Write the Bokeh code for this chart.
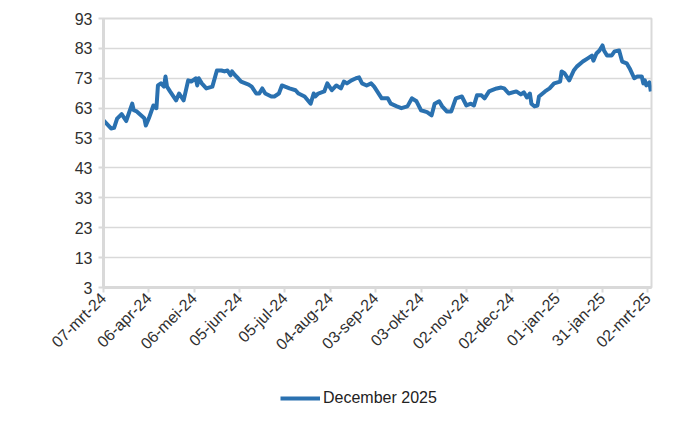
import math
from datetime import datetime, timedelta
from bokeh.plotting import figure
from bokeh.layouts import column
from bokeh.models import FixedTicker, Range1d, Legend, LegendItem
from bokeh.embed import file_html
from bokeh.resources import INLINE

# ---- data ----
dates = [
    "2024-03-07", "2024-03-12", "2024-03-14", "2024-03-16", "2024-03-19", "2024-03-22",
    "2024-03-26", "2024-03-27", "2024-03-29", "2024-04-03", "2024-04-04", "2024-04-06",
    "2024-04-09", "2024-04-11", "2024-04-12", "2024-04-14", "2024-04-16", "2024-04-17",
    "2024-04-18", "2024-04-20", "2024-04-24", "2024-04-26", "2024-04-29", "2024-05-02",
    "2024-05-04", "2024-05-07", "2024-05-08", "2024-05-09", "2024-05-11", "2024-05-14",
    "2024-05-18", "2024-05-21", "2024-05-24", "2024-05-26", "2024-05-28", "2024-05-30",
    "2024-05-31", "2024-06-02", "2024-06-04", "2024-06-06", "2024-06-11", "2024-06-13",
    "2024-06-16", "2024-06-18", "2024-06-20", "2024-06-22", "2024-06-26", "2024-06-28",
    "2024-07-01", "2024-07-03", "2024-07-08", "2024-07-12", "2024-07-14", "2024-07-18",
    "2024-07-22", "2024-07-24", "2024-07-25", "2024-07-27", "2024-07-31", "2024-08-02",
    "2024-08-05", "2024-08-08", "2024-08-11", "2024-08-13", "2024-08-15", "2024-08-18",
    "2024-08-21", "2024-08-23", "2024-08-25", "2024-08-28", "2024-08-31", "2024-09-02",
    "2024-09-07", "2024-09-11", "2024-09-13", "2024-09-17", "2024-09-20", "2024-09-24",
    "2024-09-27", "2024-09-30", "2024-10-03", "2024-10-07", "2024-10-10", "2024-10-12",
    "2024-10-15", "2024-10-17", "2024-10-20", "2024-10-23", "2024-10-26", "2024-10-30",
    "2024-11-02", "2024-11-05", "2024-11-07", "2024-11-09", "2024-11-12", "2024-11-14",
    "2024-11-17", "2024-11-19", "2024-11-22", "2024-11-25", "2024-11-27", "2024-11-30",
    "2024-12-05", "2024-12-08", "2024-12-10", "2024-12-12", "2024-12-14", "2024-12-15",
    "2024-12-17", "2024-12-19", "2024-12-20", "2024-12-24", "2024-12-27", "2024-12-30",
    "2025-01-03", "2025-01-04", "2025-01-06", "2025-01-09", "2025-01-12", "2025-01-14",
    "2025-01-18", "2025-01-21", "2025-01-24", "2025-01-25", "2025-01-27", "2025-01-29",
    "2025-01-31", "2025-02-01", "2025-02-03", "2025-02-06", "2025-02-08", "2025-02-11",
    "2025-02-13", "2025-02-16", "2025-02-18", "2025-02-21", "2025-02-23", "2025-02-26",
    "2025-02-27", "2025-02-28", "2025-03-01", "2025-03-03", "2025-03-04",
]
values = [
    58.9, 56.2, 56.4, 59.5, 61.0, 58.7,
    64.5, 62.3, 61.9, 59.6, 57.2, 59.6,
    63.9, 63.0, 70.6, 71.3, 70.2, 73.6,
    70.2, 68.6, 65.6, 67.9, 65.6, 72.3,
    71.9, 73.0, 70.6, 73.0, 71.3, 69.6,
    70.2, 75.6, 75.6, 75.3, 75.6, 74.0,
    75.3, 74.0, 73.0, 71.9, 70.9, 70.2,
    67.9, 67.9, 69.6, 67.9, 66.9, 66.9,
    67.9, 70.6, 69.6, 69.0, 67.9, 66.9,
    64.5, 67.9, 66.9, 67.9, 68.6, 71.3,
    69.0, 70.6, 69.6, 71.9, 71.3, 72.3,
    73.0, 73.3, 71.3, 70.6, 71.3, 70.2,
    66.3, 66.3, 64.5, 63.6, 63.0, 63.6,
    66.3, 65.3, 62.3, 61.7, 60.6, 64.5,
    65.3, 63.6, 61.9, 61.9, 66.3, 66.9,
    63.9, 64.5, 63.9, 67.3, 67.3, 66.3,
    68.6, 69.0, 69.6, 69.9, 69.6, 67.9,
    68.6, 67.6, 68.3, 66.6, 67.9, 64.5,
    63.6, 63.9, 66.9, 68.6, 69.6, 71.3,
    71.9, 75.3, 74.6, 72.3, 75.6, 76.9,
    78.6, 79.6, 80.6, 78.9, 81.3, 82.3,
    84.0, 82.3, 80.6, 80.6, 82.0, 82.3,
    78.6, 78.0, 76.3, 73.0, 73.6, 73.6,
    71.3, 72.3, 70.6, 71.6, 68.6,
]
tick_dates = ["2024-03-07", "2024-04-06", "2024-05-06", "2024-06-05", "2024-07-05",
              "2024-08-04", "2024-09-03", "2024-10-03", "2024-11-02", "2024-12-02",
              "2025-01-01", "2025-01-31", "2025-03-02"]
tick_labels = ["07-mrt-24", "06-apr-24", "06-mei-24", "05-jun-24", "05-jul-24",
               "04-aug-24", "03-sep-24", "03-okt-24", "02-nov-24", "02-dec-24",
               "01-jan-25", "31-jan-25", "02-mrt-25"]
y_ticks = [3, 13, 23, 33, 43, 53, 63, 73, 83, 93]
series_name = "December 2025"

# ---- build ----
def ms(s):
    return datetime.strptime(s, "%Y-%m-%d").timestamp() * 1000.0

xs = [datetime.strptime(d, "%Y-%m-%d") for d in dates]
tick_ms = [ms(d) for d in tick_dates]

start = datetime.strptime(tick_dates[0], "%Y-%m-%d")
x_end = datetime.strptime(dates[-1], "%Y-%m-%d") + timedelta(hours=10)

FONT = "Liberation Sans"
FS = "16px"
GRID = "#D9D9D9"
TXT = "#303030"
BLUE = "#2A71B0"
LW = 4

p = figure(width=684, height=366, x_axis_type="datetime",
           output_backend="svg", toolbar_location=None,
           x_range=Range1d(start, x_end), y_range=Range1d(3, 93),
           min_border_left=103, min_border_right=33, min_border_top=18,
           min_border_bottom=79)

r = p.line(xs, values, line_color=BLUE, line_width=LW, line_join="round")

p.outline_line_color = GRID
p.outline_line_width = 2
p.background_fill_color = "white"
p.border_fill_color = "white"

p.xgrid.visible = False
p.ygrid.grid_line_color = GRID
p.ygrid.grid_line_width = 1.5

p.yaxis.ticker = FixedTicker(ticks=y_ticks)
p.yaxis.axis_line_color = GRID
p.yaxis.axis_line_width = 3
p.yaxis.major_tick_line_color = GRID
p.yaxis.major_tick_line_width = 2
p.yaxis.major_tick_out = 5
p.yaxis.major_tick_in = 0
p.yaxis.minor_tick_line_color = None
p.yaxis.major_label_text_font = FONT
p.yaxis.major_label_text_font_size = FS
p.yaxis.major_label_text_color = TXT
p.yaxis.major_label_standoff = 6

p.xaxis.ticker = FixedTicker(ticks=tick_ms)
p.xaxis.major_label_overrides = {t: l for t, l in zip(tick_ms, tick_labels)}
p.xaxis.major_label_orientation = math.pi / 4
p.xaxis.axis_line_color = GRID
p.xaxis.axis_line_width = 3
p.xaxis.major_tick_line_color = GRID
p.xaxis.major_tick_line_width = 2
p.xaxis.major_tick_out = 5
p.xaxis.major_tick_in = 0
p.xaxis.minor_tick_line_color = None
p.xaxis.major_label_text_font = FONT
p.xaxis.major_label_text_font_size = FS
p.xaxis.major_label_text_color = TXT
p.xaxis.major_label_standoff = 3

# legend strip below the chart (its frame is aligned with the chart's frame)
p2 = figure(width=684, height=48, output_backend="svg", toolbar_location=None,
            x_axis_location=None, y_axis_location=None,
            x_range=Range1d(0, 1), y_range=Range1d(0, 1), min_border=0)
p2.outline_line_color = None
p2.xgrid.visible = False
p2.ygrid.visible = False
# sample line for the legend key, placed outside the visible range
r2 = p2.line([-2, -1], [-2, -1], line_color=BLUE, line_width=LW)
legend = Legend(items=[LegendItem(label=series_name, renderers=[r2])],
                location=(177, 6), orientation="horizontal",
                padding=0, margin=0, border_line_color=None,
                background_fill_alpha=0,
                glyph_width=40, glyph_height=20, label_standoff=3,
                label_text_font=FONT, label_text_font_size=FS,
                label_text_color="#222222")
p2.add_layout(legend, "center")

layout = column(p, p2, spacing=0)
open("out.html", "w").write(file_html(layout, INLINE))
